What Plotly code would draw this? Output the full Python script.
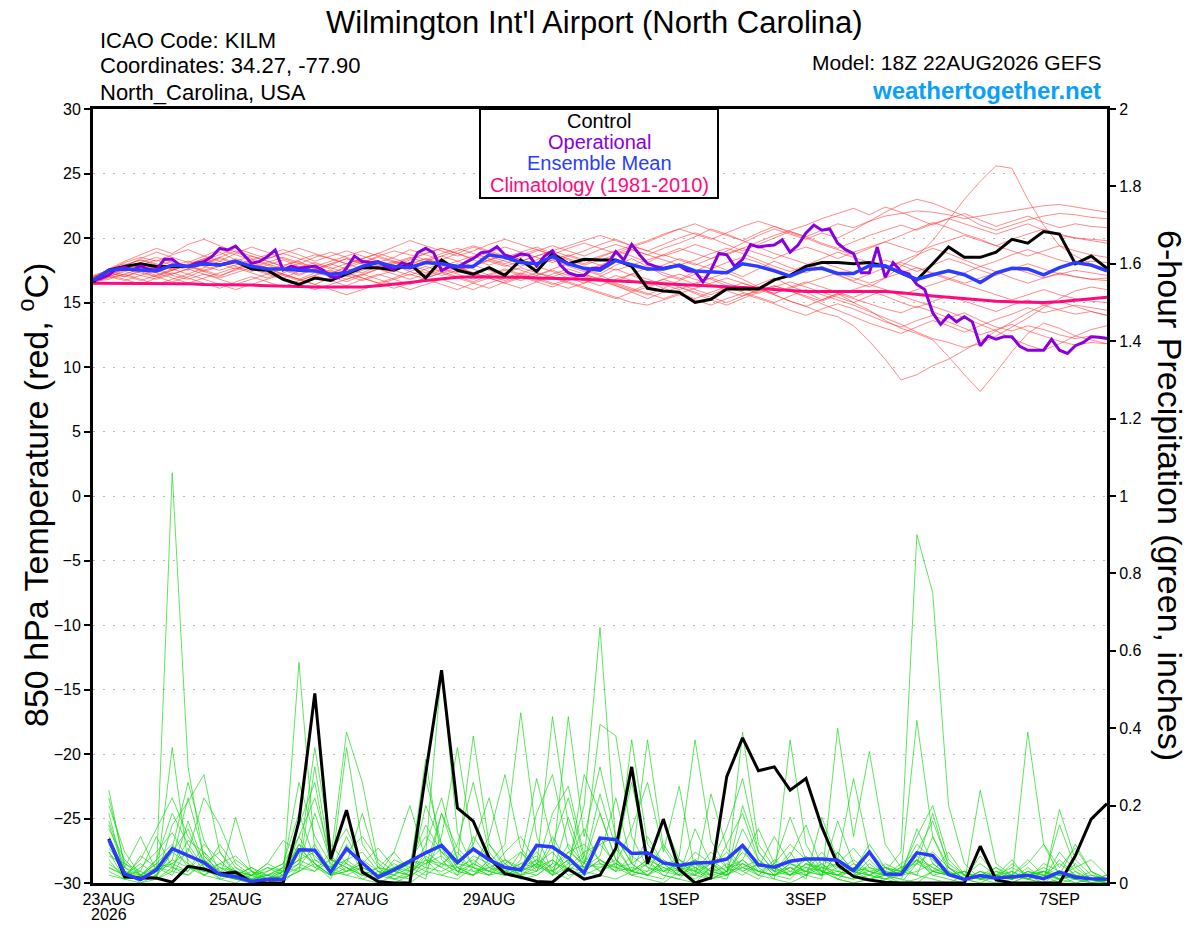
import pandas as pd
import plotly.graph_objects as go

# ---------------- data ----------------
run_start = "2026-08-22 18:00"
temp_times = pd.date_range(run_start, periods=65, freq="6h")
oper_times = pd.date_range(run_start, periods=129, freq="3h")
prcp_times = pd.date_range("2026-08-23 00:00", periods=64, freq="6h")

tick_dates = ["2026-08-23", "2026-08-25", "2026-08-27", "2026-08-29",
              "2026-09-01", "2026-09-03", "2026-09-05", "2026-09-07"]
tick_labels = ["23AUG", "25AUG", "27AUG", "29AUG", "1SEP", "3SEP", "5SEP", "7SEP"]
year_label = "2026"
temp_ticks = [-30, -25, -20, -15, -10, -5, 0, 5, 10, 15, 20, 25, 30]
prcp_ticks = [0, 0.2, 0.4, 0.6, 0.8, 1, 1.2, 1.4, 1.6, 1.8, 2]
prcp_tick_labels = ["0", "0.2", "0.4", "0.6", "0.8", "1", "1.2", "1.4", "1.6", "1.8", "2"]

control_temp = [16.6, 17.5, 17.8, 18.0, 17.8, 17.8, 17.8, 18.0, 17.9, 18.2, 17.6,
                17.5, 16.8, 16.4, 16.9, 16.7, 17.2, 17.7, 17.7, 17.5, 18.0,
                16.9, 18.3, 17.5, 17.2, 17.7, 17.1, 18.3, 17.4, 18.8, 18.0,
                18.35, 18.3, 18.3, 17.8, 16.1, 15.9, 15.8, 15.0, 15.25, 16.05,
                16.05, 16.05, 16.75, 17.1, 17.8, 18.1, 18.1, 18.0, 18.1, 17.8,
                17.3, 16.75, 18.0, 19.3, 18.5, 18.5, 18.9, 19.9, 19.6, 20.5, 20.3, 18.0, 18.6, 17.65]

mean_temp = [16.7, 17.5, 17.6, 17.55, 17.45, 17.9, 17.8, 18.0, 17.9, 18.2, 17.8,
             17.6, 17.6, 17.5, 17.45, 17.2, 17.3, 17.8, 18.1, 17.8, 17.7,
             18.1, 18.0, 17.8, 17.8, 18.7, 18.5, 18.1, 18.0, 18.55, 18.0,
             17.65, 17.5, 18.25, 17.95, 17.6, 17.6, 17.9, 17.45, 17.35, 17.3,
             18.0, 17.8, 17.45, 17.05, 17.55, 17.65, 17.25, 17.25, 17.85, 17.85,
             17.3, 16.8, 17.15, 17.45, 17.15, 16.55, 17.3, 17.65, 17.6, 17.15, 17.7, 18.1, 17.9, 17.45]

clim_temp = [16.5, 16.5, 16.5, 16.45, 16.45, 16.45, 16.45, 16.4, 16.4, 16.4, 16.35,
             16.3, 16.3, 16.25, 16.2, 16.2, 16.15, 16.2, 16.3, 16.4, 16.55,
             16.7, 16.85, 16.95, 17.0, 17.0, 16.95, 16.95, 16.9, 16.9, 16.85,
             16.8, 16.75, 16.7, 16.6, 16.55, 16.45, 16.4, 16.35, 16.3, 16.25,
             16.2, 16.1, 16.0, 15.9, 15.85, 15.85, 15.85, 15.9, 15.9, 15.85,
             15.75, 15.6, 15.5, 15.4, 15.3, 15.15, 15.1, 15.05, 15.0, 15.0, 15.05, 15.15, 15.3, 15.4]

operational_temp = [16.74, 16.87, 17.13, 17.65, 17.73, 17.52, 17.83, 17.57, 17.52, 18.35,
                    18.35, 17.9, 17.78, 18.04, 18.17, 18.55, 19.2, 19.07, 19.38, 18.68,
                    18.04, 18.17, 18.55, 19.07, 17.52, 17.83, 17.65, 17.73, 17.83, 17.52,
                    17.0, 16.95, 17.65, 18.6, 18.17, 18.09, 18.17, 17.78, 17.57, 18.09,
                    17.83, 18.86, 19.2, 18.86, 17.47, 17.78, 17.73, 18.09, 18.42, 18.86,
                    18.94, 19.33, 18.68, 18.5, 18.76, 18.68, 17.83, 18.6, 19.02, 17.9,
                    17.3, 17.1, 17.1, 17.65, 17.65, 18.0, 18.95, 18.3, 19.5, 18.7,
                    18.0, 17.8, 17.65, 17.8, 17.85, 17.45, 17.4, 16.6, 17.5, 18.8,
                    18.7, 17.8, 18.35, 19.5, 19.3, 19.4, 19.45, 19.85, 18.9, 19.45,
                    20.4, 21.0, 20.6, 20.7, 19.6, 19.1, 18.8, 17.3, 17.3, 19.3,
                    16.95, 18.1, 17.4, 17.2, 16.4, 16.0, 14.2, 13.3, 14.0, 13.5,
                    13.9, 13.5, 11.65, 12.4, 12.15, 12.35, 12.35, 11.6, 11.3, 11.3,
                    11.3, 12.15, 11.3, 11.05, 11.65, 11.9, 12.35, 12.3, 12.2]

member_temp_01 = [16.9,17.4,17.9,18.3,18.0,17.6,17.9,18.4,18.9,18.3,17.8, 17.5,17.9,18.2,17.6,17.2,17.8,18.3,18.1,17.6,17.9, 18.4,18.0,17.5,17.9,18.6,18.2,17.8,18.3,18.8,18.1, 17.6,17.2,17.9,18.4,17.8,17.1,16.8,17.4,18.0,17.5, 17.0,17.6,18.2,17.7,17.3,17.8,17.2,16.6,16.2,16.9, 17.8,18.6,19.8,21.4,23.0,24.4,25.6,25.4,23.0,21.0,19.4,18.6,18.0,17.6]
member_temp_02 = [16.7,17.1,17.6,17.3,17.0,17.5,17.9,17.4,17.0,17.6,18.1, 17.7,17.2,16.8,17.3,17.0,16.6,17.1,17.6,17.9,17.4, 17.0,17.5,18.0,17.6,17.1,16.7,17.2,17.8,17.4,16.9, 16.5,17.0,17.6,17.1,16.6,16.1,16.7,17.2,16.8,16.3, 15.9,16.4,16.9,16.3,15.8,15.2,15.7,15.0,14.4,13.6, 13.0,12.6,12.1,10.8,9.4,8.1,9.6,11.2,12.6,13.4,13.0,12.4,12.1,11.8]
member_temp_03 = [17.0,17.3,17.0,17.5,17.9,17.6,17.2,17.7,18.2,17.8,17.4, 17.9,18.3,17.8,17.5,17.9,18.4,18.0,17.6,18.1,18.5, 18.1,17.7,17.3,17.8,18.3,17.9,17.5,17.1,17.6,18.0, 17.5,17.1,16.6,17.2,17.7,17.3,16.9,16.4,16.9,17.3, 16.8,16.2,15.6,15.1,14.7,14.2,13.9,13.2,12.0,10.6, 9.0,9.4,10.1,10.6,11.3,12.0,12.8,13.5,14.2,14.8,15.1,14.7,14.3,14.0]
member_temp_04 = [16.8,17.5,18.1,18.5,18.2,18.7,19.1,18.6,18.2,18.8,19.3, 18.9,18.4,18.0,18.5,18.9,18.5,18.1,18.6,19.0,18.7, 18.3,18.8,19.2,18.8,18.4,18.0,18.5,19.0,19.4,19.0, 18.6,19.1,19.5,19.1,18.7,19.2,19.6,20.1,20.7,20.3, 19.8,20.4,20.9,20.5,20.1,20.6,21.1,20.8,21.3,21.7, 21.9,22.1,22.0,21.8,21.5,21.7,21.9,22.1,22.3,22.5,22.6,22.4,22.2,22.0]
member_temp_05 = [16.7,17.0,17.5,17.9,18.3,17.9,17.5,18.0,18.5,19.0,18.6, 18.2,17.8,18.3,18.7,18.4,18.0,17.6,18.1,18.5,19.1, 18.7,18.3,18.8,19.3,18.9,18.5,18.9,19.3,18.8,18.4, 18.0,18.5,19.0,18.6,18.1,18.7,19.2,18.8,18.4,19.0, 19.6,20.2,20.7,20.3,19.9,20.4,20.0,20.6,21.3,22.0, 22.6,23.0,22.7,22.2,21.7,21.0,20.6,21.0,21.4,21.7,21.9,21.8,21.6,21.5]
member_temp_06 = [16.5,17.0,17.4,17.1,16.8,17.2,17.6,17.2,16.9,17.3,17.7, 17.3,16.9,17.4,17.8,17.4,17.0,17.5,17.9,17.5,17.1, 17.6,18.0,17.7,17.3,16.9,17.3,17.7,17.3,17.0,17.4, 17.0,16.6,17.1,16.7,16.3,16.8,17.2,16.8,16.4,15.9, 15.5,16.0,15.6,15.1,14.7,15.2,15.7,15.3,14.9,14.5, 14.2,14.7,14.3,13.8,14.2,13.6,13.1,12.8,13.2,12.9,12.5,12.2,12.4,12.3]
member_temp_07 = [16.9,17.6,18.0,17.7,17.3,17.8,18.2,17.8,17.5,17.9,18.3, 17.9,17.5,17.1,17.6,18.0,17.6,17.3,17.8,18.2,17.8, 18.2,18.6,18.2,17.8,18.3,18.7,18.3,17.9,18.3,17.8, 17.4,17.9,18.3,17.9,17.5,17.9,18.4,18.0,17.6,18.1, 18.5,18.1,17.6,17.1,17.6,18.1,17.7,17.3,17.8,18.3, 17.9,17.4,17.9,18.4,18.0,17.5,17.1,17.6,18.0,17.6,17.2,17.5,17.3,17.1]
member_temp_08 = [16.6,17.2,17.8,18.4,18.9,18.5,18.1,18.6,19.1,18.7,18.3, 18.7,19.1,18.7,18.2,18.6,19.0,18.6,18.2,17.8,18.3, 18.8,19.2,18.8,18.4,18.9,19.3,18.9,18.5,18.1,18.6, 19.0,19.5,19.9,19.4,19.0,19.5,20.0,20.4,20.0,19.5, 19.0,19.5,20.0,20.5,20.1,19.6,19.2,19.7,20.2,20.6, 21.0,20.6,21.1,21.5,21.1,20.7,20.3,20.7,21.1,20.6,20.2,20.0,19.8,19.6]
member_temp_09 = [16.8,17.1,16.8,16.4,16.9,17.3,16.9,16.5,16.1,16.6,17.0, 16.6,16.2,16.7,17.1,16.7,16.3,16.8,17.2,16.8,16.4, 16.9,17.3,16.9,16.5,16.1,16.6,17.0,16.6,16.2,16.7, 17.1,16.7,16.3,15.9,16.4,16.8,16.4,16.0,15.6,16.1, 16.5,16.1,15.7,16.2,16.6,16.2,15.8,15.4,15.9,15.5, 15.0,14.6,15.1,15.5,15.1,14.7,14.3,14.8,15.2,14.8,14.4,14.1,14.3,14.0]
member_temp_10 = [16.9,17.4,17.8,17.4,17.0,16.6,17.0,17.5,17.9,18.4,18.0, 17.6,17.2,16.8,16.4,16.9,17.3,16.9,16.5,16.9,17.4, 17.8,17.4,17.0,16.6,17.1,17.5,17.1,16.7,17.2,17.6, 17.2,16.8,16.4,16.0,15.6,16.1,15.7,15.3,15.8,16.2, 15.8,15.4,15.0,15.5,16.0,15.6,15.2,14.8,14.3,13.8, 13.3,12.7,12.2,11.9,11.5,11.8,12.4,13.1,13.8,14.6,15.3,15.9,16.2,16.0]
member_temp_11 = [17.1,17.5,17.9,18.3,17.9,17.5,17.9,18.3,18.7,19.2,18.8, 18.4,18.8,19.2,18.8,18.4,18.0,18.4,18.8,19.3,19.8, 19.4,19.0,18.6,19.0,19.5,19.9,19.5,19.1,18.7,19.2, 19.6,19.2,18.8,19.3,19.7,20.2,20.7,20.3,19.9,20.4, 20.9,21.3,20.9,20.4,20.0,19.5,19.1,18.7,19.2,19.7, 20.2,20.7,21.2,20.8,20.3,19.9,19.4,19.0,18.6,19.0,19.4,19.0,18.7,18.5]
member_temp_12 = [16.6,16.9,17.2,17.6,17.3,16.9,16.5,16.9,17.3,17.7,17.3, 16.9,17.3,17.7,18.1,17.7,17.3,16.9,16.5,16.1,16.5, 16.9,17.3,17.7,17.3,16.9,16.5,16.9,17.3,16.9,16.5, 16.1,15.7,15.3,15.8,16.2,16.6,16.2,15.8,15.4,15.0, 15.5,15.9,16.3,15.9,15.5,15.1,15.6,16.0,16.4,16.0, 15.6,16.0,16.4,16.8,16.4,16.0,15.6,15.2,15.6,16.0,15.6,15.3,15.1,15.0]
member_temp_13 = [16.8,17.3,17.7,18.1,18.5,18.1,17.7,18.1,18.5,18.1,17.7, 18.1,18.5,18.1,17.7,17.3,17.7,18.1,18.5,18.1,17.7, 17.3,17.8,18.2,18.6,18.2,17.8,18.2,18.6,19.0,18.6, 18.2,18.6,19.0,19.4,19.0,18.6,19.0,19.5,19.1,18.7, 19.2,19.7,20.2,20.6,21.0,21.5,21.9,22.3,21.8,22.4, 22.0,21.5,21.0,21.5,21.9,21.4,20.9,21.3,21.7,21.2,20.8,21.1,20.9,20.8]
member_temp_14 = [16.7,17.0,16.7,17.1,17.5,17.1,16.8,17.2,16.8,16.4,16.8, 17.2,16.8,16.4,16.0,16.4,16.8,17.2,16.8,16.4,16.0, 16.4,16.8,16.4,16.0,16.5,16.9,17.3,16.9,16.5,16.1, 16.5,16.9,16.5,16.1,15.7,15.3,15.7,16.1,16.5,16.9, 16.5,16.1,15.7,16.1,16.5,16.9,17.3,16.9,16.5,16.9, 17.3,17.7,17.3,16.9,16.5,16.9,17.3,17.7,17.3,16.9,17.2,17.0,16.8,16.9]
member_temp_15 = [16.9,17.6,18.2,18.7,19.2,18.8,19.5,19.9,19.4,18.9,18.4, 18.0,17.6,17.2,17.6,18.0,18.4,18.0,17.6,18.0,18.4, 18.8,19.2,18.8,18.3,17.9,18.3,18.7,19.1,18.7,18.3, 17.9,18.3,18.7,19.1,18.7,18.3,17.9,18.3,18.8,19.2, 18.8,18.3,17.8,17.4,17.9,18.4,18.9,18.5,18.1,17.7, 18.2,18.7,19.2,18.8,18.3,17.8,18.2,18.7,19.1,18.7,18.3,18.0,18.2,18.1]
member_temp_16 = [16.6,16.8,17.2,16.8,16.4,16.8,17.2,16.8,16.4,16.0,16.4, 16.8,17.2,16.8,16.4,16.0,15.6,16.0,16.4,16.8,17.2, 16.8,16.4,16.0,16.5,16.9,16.5,16.1,16.6,17.0,16.6, 16.2,15.8,15.4,15.0,14.8,15.2,15.6,15.2,14.8,15.3, 15.7,15.3,14.9,14.4,14.0,14.5,14.9,14.5,14.0,13.5, 13.1,13.6,14.0,13.5,13.0,12.5,12.9,13.3,12.8,12.4,12.0,11.7,11.9,11.8]
member_temp_17 = [17.0,17.4,17.8,17.5,17.1,17.6,18.0,18.4,18.0,17.6,18.0, 18.4,18.8,18.4,18.0,17.6,18.0,18.4,18.8,18.4,18.0, 18.4,17.9,17.5,17.9,18.3,18.7,18.3,17.9,18.3,18.7, 18.3,17.9,17.5,17.9,18.3,18.7,18.3,17.9,18.4,18.8, 19.2,18.8,18.4,18.9,19.3,18.9,18.4,18.9,19.3,19.7, 19.3,18.9,19.4,19.8,20.2,19.8,19.4,19.9,20.3,20.7,20.3,20.0,19.9,19.8]
member_temp_18 = [16.7,17.2,17.6,18.0,17.6,17.2,17.6,18.0,18.4,18.0,17.6, 17.2,17.6,18.0,17.6,17.2,16.8,17.2,17.6,17.2,16.8, 17.2,17.6,17.2,16.8,17.2,17.6,17.2,16.8,16.4,16.8, 17.2,16.8,16.3,15.8,15.3,15.8,16.2,15.7,15.2,14.8, 15.3,15.8,16.3,15.9,15.4,14.9,14.4,13.9,13.4,13.0, 12.6,13.1,13.6,13.2,12.7,13.2,13.7,14.1,14.6,14.2,14.5,14.8,14.6,14.4]
member_temp_19 = [16.8,17.3,17.0,17.4,17.8,18.2,17.8,17.4,17.8,18.2,18.6, 18.2,17.8,17.4,17.8,18.2,18.6,19.0,18.6,18.2,17.8, 18.2,18.6,19.0,19.4,19.0,18.6,18.2,18.6,19.0,19.4, 19.8,20.2,19.8,19.4,19.8,20.3,20.7,21.1,20.6,20.2, 19.8,19.3,18.8,18.4,18.0,17.6,17.1,16.7,17.2,17.7, 18.1,17.7,17.2,16.8,17.3,17.8,17.4,16.9,16.5,16.9,17.3,17.0,16.8,16.7]
member_temp_20 = [17.0,17.5,17.1,16.7,17.1,17.5,17.9,17.5,17.1,17.5,17.9, 17.5,17.1,16.7,17.1,17.5,17.1,16.7,17.1,17.5,17.9, 17.5,17.1,17.5,17.9,17.5,17.1,16.7,17.1,17.5,17.1, 16.7,16.3,16.8,17.2,16.8,16.4,16.0,16.5,16.9,16.5, 16.1,15.7,16.2,16.6,16.2,15.8,15.4,15.0,15.5,16.0, 15.5,15.1,14.7,14.3,13.8,13.3,12.8,12.2,11.7,11.3,11.8,12.4,12.9,13.2]

control_prcp = [.114,.016,.013,.013,.002,.043,.036,.023, .028,.002,0,0,.16,.49,.062,.188,
                .028,.004,0,0,.284,.55,.194,.16, .065,.024,.015,.004,.002,.036,.01,.02,
                .09,.30,.05,.165,.035,0,.013,.275, .375,.29,.30,.24,.27,.145,.047,.017,
                .008,.002,0,0,0,0,0,.095, .008,0,0,0,0,.07,.165,.205]
mean_prcp = [.112,.023,.009,.034,.089,.071,.053,.022, .016,.004,.01,.01,.086,.085,.028,.089,
             .053,.015,.034,.056,.078,.097,.053,.088, .06,.04,.034,.097,.093,.065,.026,.116,
             .112,.076,.078,.052,.045,.052,.053,.062, .097,.047,.041,.056,.062,.062,.059,.032,
             .08,.023,.022,.078,.071,.022,.009,.019, .013,.016,.02,.011,.028,.015,.011,.01]

member_prcp_01 = [.24,.04,.01,.03,1.06,.30,.06,.02, .01,0,0,.02,.12,.05,.01,.10, .03,0,0,.02,.20,.10,.04,.02, .05,.10,.44,.12,.03,.01,.05,.12, .04,.02,.01,0,.03,.06,.02,.01, .10,.04,.01,0,.02,.05,.01,0, .01,.03,.08,.90,.75,.20,.05,.01, 0,0,.02,0,.01,.03,0,0]
member_prcp_02 = [.18,.02,.06,.14,.22,.12,.06,.01, .17,.03,0,.01,.57,.08,.02,.04, .01,0,.02,.06,.08,.55,.13,.04, .02,.05,.08,.03,.12,.05,.20,.66, .10,.03,.06,.02,.01,0,.04,.08, .03,.01,.05,.17,.06,.02,.08,.03, .02,.01,0,.05,.18,.04,.01,0, .02,.06,.01,0,.03,.01,0,0]
member_prcp_03 = [.12,.03,0,.01,.15,.21,.28,.08, .02,0,.01,.03,.06,.35,.10,.05, .18,.04,.01,0,.03,.12,.35,.09, .04,.02,.06,.27,.10,.03,.07,.41, .38,.12,.04,.02,.01,.06,.03,.02, .39,.10,.04,.02,.05,.03,.01,0, .01,.02,.03,.42,.12,.03,.01,0, 0,.01,.03,.02,0,.01,0,.01]
member_prcp_04 = [.06,.01,.02,.05,.09,.26,.11,.03, .01,.03,.02,.01,.03,.30,.06,.39, .26,.05,.02,.01,.06,.04,.10,.26, .08,.03,.01,.02,.05,.43,.12,.30, .12,.05,.37,.09,.03,.01,.04,.02, .06,.02,.01,.37,.10,.03,.02,.01, .05,.02,0,.01,.03,.08,.02,.01, .01,0,.02,.01,.06,.02,.01,0]
member_prcp_05 = [.09,.04,.12,.03,.05,.08,.22,.15, .05,.02,0,0,.04,.10,.03,.12, .04,.02,.08,.03,.01,.18,.06,.04, .12,.28,.09,.04,.18,.25,.07,.03, .05,.14,.26,.08,.25,.03,.01,.02, .05,.03,.02,.04,.01,.17,.06,.27, .08,.03,.02,.06,.02,.01,0,.24, .05,.02,.01,.03,.01,0,.01,0]
member_prcp_06 = [.20,.08,.02,.01,.04,.03,.10,.06, .02,.01,.04,.03,.15,.26,.04,.02, .01,.03,.02,.06,.12,.08,.05,.10, .22,.06,.03,.05,.02,.17,.05,.23, .09,.03,.02,.01,.07,.37,.11,.04, .02,.05,.03,.08,.02,.01,.40,.12, .34,.10,.04,.02,.01,0,.02,.05, .02,.01,.39,.10,.02,0,.01,0]
member_prcp_07 = [.15,.03,.01,.02,.08,.14,.04,.01, 0,.02,.05,.11,.08,.05,.02,.35, .10,.04,.08,.20,.06,.02,.01,.04, .03,.02,.08,.04,.43,.15,.03,.02, .01,.03,.02,.06,.03,.02,.23,.09, .04,.03,.02,.01,.05,.03,.02,.01, .02,.04,.03,.12,.20,.06,.02,.01, .04,.02,.01,0,.19,.06,.02,.01]
member_prcp_08 = [.05,.02,.01,.04,.03,.02,.06,.03, .01,.01,.02,.04,.26,.12,.05,.03, .05,.09,.04,.02,.10,.22,.06,.38, .10,.04,.02,.03,.06,.02,.03,.06, .03,.37,.10,.05,.02,.04,.01,.03, .06,.14,.05,.02,.03,.08,.03,.02, .06,.02,.01,0,.03,.02,.01,.03, .01,.02,.05,.10,.04,.09,.03,.01]
member_prcp_09 = [.11,.02,.03,.01,.35,.05,.02,.04, .03,.01,0,.03,.05,.18,.06,.04, .02,.01,.03,.05,.15,.08,.03,.02, .06,.03,.02,.05,.08,.03,.28,.18, .06,.03,.05,.16,.06,.02,.01,.03, .14,.06,.02,.03,.06,.02,.08,.03, .01,.02,.05,.08,.16,.05,.02,.01, .03,.01,.02,.04,.02,.10,.03,.01]
member_prcp_10 = [.03,.01,.07,.04,.02,.09,.03,.02, .06,.03,.01,.02,.04,.03,.08,.14, .05,.02,.04,.06,.05,.09,.03,.05, .10,.05,.02,.18,.28,.09,.04,.07, .22,.05,.02,.04,.03,.08,.05,.02, .20,.08,.03,.07,.15,.04,.02,.05, .03,.01,.02,.06,.04,.02,.01,.07, .02,.01,.04,.01,.15,.04,.06,.02]
member_prcp_11 = [.08,.01,0,.02,.06,.04,.03,.10, .04,.02,.05,.03,.06,.08,.04,.06, .03,.01,.06,.04,.27,.10,.04,.03, .02,.06,.04,.03,.10,.22,.06,.03, .08,.26,.07,.03,.02,.14,.05,.03, .08,.04,.12,.05,.03,.02,.16,.05, .02,.04,.03,.02,.12,.04,.01,.02, .01,.03,.01,.02,.05,.02,0,.01]
member_prcp_12 = [.14,.06,.02,.05,.04,.11,.08,.02, .01,0,.03,.05,.12,.22,.07,.03, .06,.03,.01,.02,.04,.18,.09,.05, .03,.08,.12,.05,.03,.06,.14,.05, .04,.03,.12,.05,.02,.02,.05,.14, .27,.08,.03,.04,.02,.06,.04,.02, .08,.04,.02,.14,.05,.02,.03,.01, .02,.04,.02,.01,.02,.01,.03,0]
member_prcp_13 = [.02,.01,.04,.08,.13,.06,.02,.01, .02,.04,.02,.01,.03,.06,.04,.08, .12,.06,.03,.02,.07,.04,.02,.12, .06,.02,.04,.08,.03,.10,.05,.18, .06,.02,.03,.10,.04,.02,.06,.03, .04,.02,.05,.10,.06,.03,.05,.09, .04,.02,.01,.08,.03,.04,.02,.01, .03,.02,.06,.02,.01,.05,.01,.02]
member_prcp_14 = [.10,.03,.01,.06,.18,.10,.04,.02, .04,.01,.02,.04,.03,.05,.02,.03, .04,.02,.05,.03,.06,.05,.08,.03, .04,.03,.05,.07,.02,.04,.08,.10, .12,.05,.08,.03,.06,.04,.02,.05, .03,.05,.04,.02,.07,.03,.01,.04, .02,.01,.03,.10,.06,.02,.01,.03, .01,.05,.02,.03,.01,.02,.01,0]
member_prcp_15 = [.04,.02,.05,.02,.08,.05,.03,.05, .07,.03,.01,.02,.05,.03,.06,.04, .02,.04,.03,.05,.03,.02,.04,.06, .03,.05,.02,.04,.06,.03,.02,.04, .05,.03,.06,.04,.02,.05,.03,.04, .06,.03,.02,.05,.04,.02,.03,.06, .03,.02,.04,.06,.02,.03,.01,.02, .04,.01,.02,.03,.02,.01,.02,.01]
member_prcp_16 = [.07,.05,.03,.12,.04,.02,.05,.08, .03,.02,.01,.04,.09,.05,.02,.06, .08,.03,.02,.04,.02,.05,.03,.07, .05,.02,.03,.06,.04,.08,.10,.06, .03,.07,.04,.03,.05,.03,.08,.04, .05,.02,.06,.03,.02,.04,.05,.03, .10,.04,.02,.05,.08,.04,.01,.02, .02,.03,.01,.05,.03,.02,.01,0]
member_prcp_17 = [.22,.05,.02,.01,.03,.16,.05,.02, .01,.02,.03,.05,.18,.06,.03,.02, .04,.02,.01,.03,.32,.06,.02,.05, .03,.02,.04,.06,.02,.05,.04,.10, .05,.03,.02,.05,.04,.03,.02,.10, .18,.06,.02,.05,.03,.02,.04,.03, .02,.05,.03,.07,.04,.02,.01,.03, .02,.01,.03,.01,.08,.03,.01,0]
member_prcp_18 = [.04,.02,.01,.03,.06,.22,.07,.03, .02,.04,.01,.03,.06,.04,.02,.03, .05,.02,.04,.03,.05,.07,.03,.02, .06,.04,.03,.02,.05,.04,.03,.06, .04,.05,.02,.06,.03,.05,.02,.03, .09,.03,.05,.02,.04,.03,.02,.03, .04,.03,.02,.03,.05,.02,.03,.01, .02,.01,.03,.02,.01,.02,.01,.02]
member_prcp_19 = [.08,.03,.02,.04,.05,.03,.08,.04, .02,.01,.02,.03,.10,.04,.06,.05, .03,.02,.04,.06,.04,.03,.05,.04, .02,.03,.05,.04,.03,.06,.04,.05, .03,.04,.03,.05,.06,.03,.05,.02, .04,.06,.03,.02,.05,.04,.03,.02, .03,.02,.04,.05,.03,.02,.01,.02, .01,.02,.01,.03,.02,.04,.01,.01]
member_prcp_20 = [.16,.04,.02,.06,.10,.04,.02,.05, .03,.02,.04,.02,.10,.07,.03,.05, .02,.04,.03,.02,.08,.05,.04,.02, .04,.06,.03,.05,.02,.08,.05,.04, .06,.02,.05,.03,.04,.06,.03,.02, .05,.03,.02,.04,.03,.05,.02,.04, .03,.04,.02,.06,.03,.02,.03,.01, .02,.01,.02,.03,.01,.02,.01,0]

member_temps = [member_temp_01, member_temp_02, member_temp_03, member_temp_04, member_temp_05,
                member_temp_06, member_temp_07, member_temp_08, member_temp_09, member_temp_10,
                member_temp_11, member_temp_12, member_temp_13, member_temp_14, member_temp_15,
                member_temp_16, member_temp_17, member_temp_18, member_temp_19, member_temp_20]
member_prcps = [member_prcp_01, member_prcp_02, member_prcp_03, member_prcp_04, member_prcp_05,
                member_prcp_06, member_prcp_07, member_prcp_08, member_prcp_09, member_prcp_10,
                member_prcp_11, member_prcp_12, member_prcp_13, member_prcp_14, member_prcp_15,
                member_prcp_16, member_prcp_17, member_prcp_18, member_prcp_19, member_prcp_20]

# ---------------- styles ----------------
FONT = "Liberation Sans, Arial, Helvetica, sans-serif"
C_RED = "rgba(255,60,60,0.75)"
C_GREEN = "rgba(20,215,20,0.85)"
C_BLACK = "#000000"
C_PURPLE = "#8a00dd"
C_BLUE = "#2a3cff"
C_PINK = "#ff0a7e"

fig = go.Figure()

for m in member_temps:
    fig.add_trace(go.Scatter(x=temp_times, y=m, mode="lines", line=dict(color=C_RED, width=0.8),
                             showlegend=False, hoverinfo="skip"))
fig.add_trace(go.Scatter(x=temp_times, y=clim_temp, mode="lines", line=dict(color=C_PINK, width=3),
                         showlegend=False))
fig.add_trace(go.Scatter(x=temp_times, y=control_temp, mode="lines", line=dict(color=C_BLACK, width=3),
                         showlegend=False))
fig.add_trace(go.Scatter(x=oper_times, y=operational_temp, mode="lines", line=dict(color=C_PURPLE, width=3),
                         showlegend=False))
fig.add_trace(go.Scatter(x=temp_times, y=mean_temp, mode="lines", line=dict(color=C_BLUE, width=3.5),
                         showlegend=False))

for m in member_prcps:
    fig.add_trace(go.Scatter(x=prcp_times, y=m, mode="lines", line=dict(color=C_GREEN, width=0.8),
                             yaxis="y2", showlegend=False, hoverinfo="skip"))
fig.add_trace(go.Scatter(x=prcp_times, y=control_prcp, mode="lines", line=dict(color=C_BLACK, width=3),
                         yaxis="y2", showlegend=False))
fig.add_trace(go.Scatter(x=prcp_times, y=mean_prcp, mode="lines", line=dict(color=C_BLUE, width=3.5),
                         yaxis="y2", showlegend=False))

# the page body adds an 8px offset at top/left; compensate so the plot area
# sits at page x 93..1107, y 109..883
OFF = 8
W, H = 1200 - OFF, 927 - OFF
L, T = 93 - OFF, 109 - OFF
R = W - (1107 - OFF)
B = H - (883 - OFF)
pw, ph = W - L - R, H - T - B


def px(xp):
    return (xp - OFF - L) / pw


def py(yp):
    return 1 - (yp - OFF - T) / ph


fig.update_layout(
    width=W, height=H,
    margin=dict(l=L, r=R, t=T, b=B, autoexpand=False),
    paper_bgcolor="white", plot_bgcolor="white",
    font=dict(family=FONT, color="black", size=16),
    showlegend=False,
    xaxis=dict(type="date", range=["2026-08-22 18:00", "2026-09-07 18:00"],
               tickvals=tick_dates, ticktext=tick_labels, ticks="", automargin=False,
               showgrid=False, zeroline=False,
               showline=True, linecolor="black", linewidth=3, mirror=True,
               tickfont=dict(size=16, family=FONT)),
    yaxis=dict(range=[-30, 30], tickvals=temp_ticks, ticks="outside", ticklen=6, tickwidth=1.5,
               tickcolor="black", showline=True, linecolor="black", linewidth=3, automargin=False,
               showgrid=True, gridcolor="#b8b8b8", gridwidth=1, griddash="2px,8px",
               zeroline=False, tickfont=dict(size=16, family=FONT)),
    yaxis2=dict(range=[0, 2], overlaying="y", side="right", tickvals=prcp_ticks,
                ticktext=prcp_tick_labels, ticks="outside", ticklen=6, tickwidth=1.5,
                tickcolor="black", showline=True, linecolor="black", linewidth=3, automargin=False,
                showgrid=False, zeroline=False, tickfont=dict(size=16, family=FONT)),
)

ann = []
ann.append(dict(text="Wilmington Int'l Airport (North Carolina)", x=px(594), y=py(22),
                xanchor="center", yanchor="middle", font=dict(size=31)))
ann.append(dict(text="ICAO Code: KILM", x=px(98), y=py(40), xanchor="left", yanchor="middle",
                font=dict(size=22)))
ann.append(dict(text="Coordinates: 34.27, -77.90", x=px(98), y=py(66), xanchor="left", yanchor="middle",
                font=dict(size=22)))
ann.append(dict(text="North_Carolina, USA", x=px(98), y=py(92), xanchor="left", yanchor="middle",
                font=dict(size=22)))
ann.append(dict(text="Model: 18Z 22AUG2026 GEFS", x=px(1103), y=py(62), xanchor="right", yanchor="middle",
                font=dict(size=21)))
ann.append(dict(text="<b>weathertogether.net</b>", x=px(1103), y=py(90), xanchor="right", yanchor="middle",
                font=dict(size=24, color="#0aa0f8")))
# legend
leg_items = [("Control", C_BLACK, 121), ("Operational", C_PURPLE, 142),
             ("Ensemble Mean", C_BLUE, 163), ("Climatology (1981-2010)", C_PINK, 185)]
for txt, col, yy in leg_items:
    ann.append(dict(text=txt, x=px(599), y=py(yy), xanchor="center", yanchor="middle",
                    font=dict(size=20, color=col)))
# axis titles
ann.append(dict(text="850 hPa Temperature (red, <sup>o</sup>C)", x=px(33), y=py(495), textangle=-90,
                xanchor="center", yanchor="middle", font=dict(size=34)))
ann.append(dict(text="6-hour Precipitation (green, inches)", x=px(1170), y=py(495), textangle=90,
                xanchor="center", yanchor="middle", font=dict(size=34)))
for a in ann:
    a.update(xref="paper", yref="paper", showarrow=False)
# year under the first date tick
ann.append(dict(text=year_label, x=tick_dates[0], xref="x", y=py(914), yref="paper",
                xanchor="center", yanchor="middle", showarrow=False, font=dict(size=16)))
fig.update_layout(annotations=ann)

fig.add_shape(type="rect", xref="paper", yref="paper", x0=px(480), x1=px(718), y0=py(198), y1=py(109),
              line=dict(color="black", width=2), fillcolor="white", layer="above")

fig.write_html("out.html")
